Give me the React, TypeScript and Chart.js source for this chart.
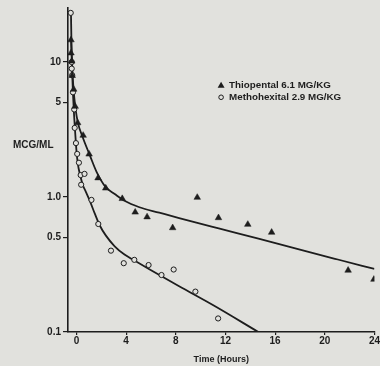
import React, { useEffect, useRef } from 'react';
import { Chart, registerables } from 'chart.js';

Chart.register(...registerables);

// ---- data (time in hours, concentration in mcg/ml) ----
const X_TICKS = [0, 4, 8, 12, 16, 20, 24];
const Y_TICKS = [0.1, 0.5, 1, 5, 10];
const Y_TICK_LABELS = ['0.1', '0.5', '1.0', '5', '10'];
const SERIES_LABELS = ['Thiopental 6.1 MG/KG', 'Methohexital 2.9 MG/KG'];
const X_TITLE = 'Time (Hours)';
const Y_TITLE = 'MCG/ML';

const thioTime = [-0.44, -0.44, -0.38, -0.34, -0.22, -0.1, 0.1, 0.54, 1.02, 1.74, 2.36, 3.69, 4.73, 5.69, 7.75, 9.73, 11.44, 13.8, 15.72, 21.88, 23.96];
const thioConc = [14.5, 11.6, 10.1, 7.9, 6.25, 4.67, 3.53, 2.85, 2.07, 1.38, 1.16, 0.97, 0.77, 0.71, 0.59, 0.99, 0.7, 0.625, 0.546, 0.286, 0.245];

const methTime = [-0.46, -0.38, -0.38, -0.34, -0.28, -0.18, -0.14, -0.04, 0.06, 0.2, 0.34, 0.65, 0.38, 1.21, 1.76, 2.78, 3.81, 4.66, 5.81, 6.85, 7.83, 9.58, 11.41];
const methConc = [23.0, 9.95, 8.9, 7.95, 5.94, 4.44, 3.24, 2.5, 2.08, 1.79, 1.45, 1.48, 1.23, 0.95, 0.63, 0.4, 0.323, 0.342, 0.313, 0.264, 0.29, 0.199, 0.126];

const thioFitTime = [-0.44, -0.36, -0.24, -0.08, 0.12, 0.52, 1.08, 1.64, 2.36, 3.08, 3.87, 5.07, 6.67, 8.27, 11.46, 14.66, 17.85, 21.05, 24];
const thioFitConc = [15.2, 9.67, 6.35, 4.54, 3.53, 2.74, 2.03, 1.52, 1.18, 1.05, 0.935, 0.838, 0.764, 0.697, 0.584, 0.49, 0.41, 0.344, 0.293];

const methFitTime = [-0.44, -0.4, -0.34, -0.28, -0.2, -0.1, 0, 0.12, 0.28, 0.52, 0.76, 1.08, 1.48, 1.88, 2.36, 3.08, 3.87, 4.67, 5.87, 8.27, 11.06, 14.65];
const methFitConc = [23.0, 13.5, 8.17, 5.84, 4.17, 2.98, 2.2, 1.74, 1.47, 1.22, 1.09, 0.935, 0.751, 0.614, 0.519, 0.431, 0.374, 0.338, 0.291, 0.218, 0.157, 0.1];

const BG = '#e1e1dd';
const INK = '#1d1d1d';
const NARROW = "'Liberation Sans Narrow', 'Liberation Sans', Arial, sans-serif";
const SANS = "'Liberation Sans', Arial, sans-serif";

const zip = (xs: number[], ys: number[]) => xs.map((x, i) => ({ x, y: ys[i] }));

const bgPlugin = {
  id: 'bg',
  beforeDraw(chart: any) {
    const { ctx, width, height } = chart;
    ctx.save();
    ctx.fillStyle = BG;
    ctx.fillRect(0, 0, width, height);
    ctx.restore();
  },
};

const annotPlugin = {
  id: 'annot',
  afterDraw(chart: any) {
    const { ctx } = chart;
    const xs = chart.scales.x;
    const ys = chart.scales.y;
    ctx.save();
    ctx.fillStyle = INK;
    // y-axis title (horizontal)
    ctx.font = `bold 10px ${SANS}`;
    ctx.textBaseline = 'middle';
    ctx.textAlign = 'left';
    ctx.fillText(Y_TITLE, 13, ys.getPixelForValue(2.4));
    // legend
    const lx = xs.getPixelForValue(11.65);
    const ly1 = ys.getPixelForValue(6.7);
    const ly2 = ly1 + 12;
    ctx.beginPath();
    ctx.moveTo(lx, ly1 - 3.5);
    ctx.lineTo(lx + 3.5, ly1 + 2.5);
    ctx.lineTo(lx - 3.5, ly1 + 2.5);
    ctx.closePath();
    ctx.fill();
    ctx.beginPath();
    ctx.strokeStyle = INK;
    ctx.lineWidth = 1;
    ctx.arc(lx, ly2, 2.3, 0, Math.PI * 2);
    ctx.stroke();
    ctx.font = `bold 9.8px ${SANS}`;
    ctx.fillText(SERIES_LABELS[0], lx + 8, ly1);
    ctx.fillText(SERIES_LABELS[1], lx + 8, ly2);
    ctx.restore();
  },
};

export default function App() {
  const ref = useRef<HTMLCanvasElement>(null);
  useEffect(() => {
    if (!ref.current) return;
    const chart = new Chart(ref.current, {
      type: 'scatter',
      data: {
        datasets: [
          {
            label: SERIES_LABELS[0] + ' fit',
            data: zip(thioFitTime, thioFitConc),
            showLine: true,
            borderColor: INK,
            borderWidth: 1.8,
            pointRadius: 0,
            cubicInterpolationMode: 'monotone',
            order: 3,
          },
          {
            label: SERIES_LABELS[1] + ' fit',
            data: zip(methFitTime, methFitConc),
            showLine: true,
            borderColor: INK,
            borderWidth: 1.8,
            pointRadius: 0,
            cubicInterpolationMode: 'monotone',
            order: 3,
          },
          {
            label: SERIES_LABELS[0],
            data: zip(thioTime, thioConc),
            showLine: false,
            pointStyle: 'triangle',
            pointRadius: 3.8,
            backgroundColor: INK,
            borderColor: INK,
            borderWidth: 0.5,
            order: 1,
          },
          {
            label: SERIES_LABELS[1],
            data: zip(methTime, methConc),
            showLine: false,
            pointStyle: 'circle',
            pointRadius: 2.6,
            backgroundColor: BG,
            borderColor: INK,
            borderWidth: 1,
            order: 1,
          },
        ],
      } as any,
      options: {
        animation: false,
        responsive: false,
        layout: { padding: { left: 0, top: 3, right: 3, bottom: 0 }, autoPadding: false },
        plugins: { legend: { display: false }, tooltip: { enabled: false } },
        scales: {
          x: {
            type: 'linear',
            min: -0.68,
            max: 24,
            afterBuildTicks: (s: any) => {
              s.ticks = X_TICKS.map((v) => ({ value: v }));
            },
            afterFit: (s: any) => {
              s.height = 34;
            },
            ticks: {
              autoSkip: false,
              maxRotation: 0,
              padding: 0,
              color: INK,
              font: { family: NARROW, size: 10, weight: 'bold' },
              callback: (v: any) => String(v),
            },
            grid: { display: true, drawOnChartArea: false, drawTicks: true, tickLength: 3, color: INK, lineWidth: 1.2 },
            border: { display: true, color: INK, width: 1.6 },
            title: {
              display: true,
              text: X_TITLE,
              color: INK,
              font: { family: SANS, size: 9, weight: 'bold' },
              padding: { top: 0, bottom: 1 },
            },
          },
          y: {
            type: 'logarithmic',
            min: 0.1,
            max: 25,
            afterBuildTicks: (s: any) => {
              s.ticks = Y_TICKS.map((v) => ({ value: v }));
            },
            afterFit: (s: any) => {
              s.width = 68;
            },
            ticks: {
              autoSkip: false,
              padding: 2,
              color: INK,
              font: { family: NARROW, size: 10, weight: 'bold' },
              callback: (v: any) => {
                const i = Y_TICKS.findIndex((t) => Math.abs(t - Number(v)) < 1e-9);
                return i >= 0 ? Y_TICK_LABELS[i] : '';
              },
            },
            grid: { display: true, drawOnChartArea: false, drawTicks: true, tickLength: 5, color: INK, lineWidth: 1.2 },
            border: { display: true, color: INK, width: 1.6 },
          },
        },
      } as any,
      plugins: [bgPlugin, annotPlugin],
    });
    return () => chart.destroy();
  }, []);
  return (
    <div style={{ position: 'fixed', left: 0, top: 0, width: 380, height: 366, background: BG }}>
      <canvas ref={ref} width={380} height={366} style={{ display: 'block' }} />
    </div>
  );
}
